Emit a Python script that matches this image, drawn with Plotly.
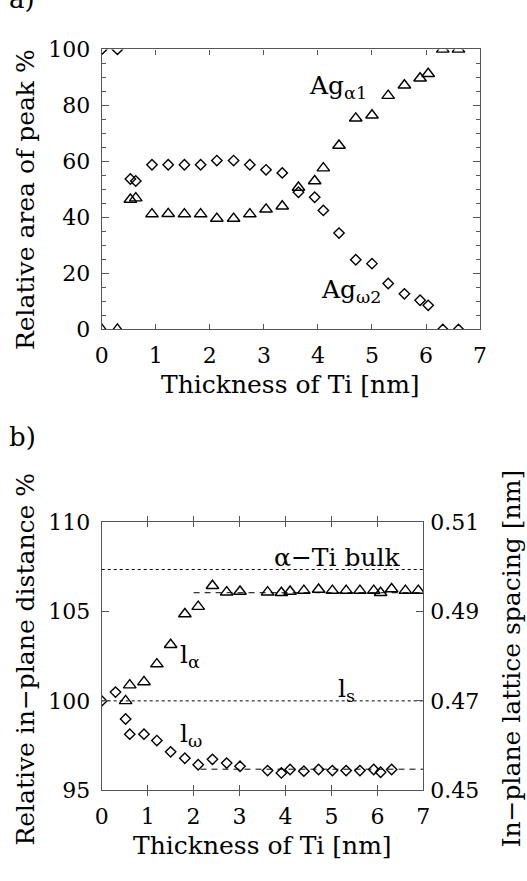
import plotly.graph_objects as go

# ---------------- data: panel a ----------------
thick_a = [0.0, 0.29, 0.53, 0.63, 0.93, 1.23, 1.53, 1.83, 2.13, 2.44, 2.74, 3.04, 3.34,
           3.64, 3.94, 4.10, 4.39, 4.70, 5.00, 5.30, 5.60, 5.89, 6.04, 6.31, 6.60]
ag_omega2 = [100, 100, 53.7, 53.0, 58.8, 58.8, 58.8, 58.8, 60.3, 60.3, 58.8, 57.0, 55.9,
             49.0, 47.2, 42.5, 34.4, 24.9, 23.5, 16.4, 12.7, 10.4, 8.6, 0, 0]
ag_alpha1 = [0, 0, 46.4, 46.9, 41.2, 41.3, 41.2, 41.2, 39.6, 39.6, 41.2, 42.9, 44.0,
             50.7, 53.0, 57.6, 65.7, 75.4, 76.5, 83.5, 87.2, 89.7, 91.3, 100, 100]

# ---------------- data: panel b ----------------
thick_w = [0.0, 0.30, 0.52, 0.61, 0.92, 1.20, 1.50, 1.81, 2.10, 2.41, 2.72, 3.01, 3.61,
           3.91, 4.10, 4.40, 4.72, 5.02, 5.32, 5.62, 5.92, 6.07, 6.31]
l_omega = [100.0, 100.49, 98.99, 98.14, 98.14, 97.78, 97.15, 96.79, 96.43, 96.73, 96.52,
           96.34, 96.10, 95.97, 96.16, 96.07, 96.16, 96.10, 96.10, 96.10, 96.16, 96.01, 96.16]
thick_al = [0.52, 0.61, 0.92, 1.20, 1.50, 1.81, 2.10, 2.41, 2.72, 3.01, 3.61, 3.91, 4.10,
            4.40, 4.72, 5.02, 5.32, 5.62, 5.92, 6.07, 6.31, 6.61, 6.89]
l_alpha = [100.0, 100.88, 101.06, 102.06, 103.14, 104.86, 105.27, 106.44, 106.08, 106.12,
           106.08, 106.05, 106.12, 106.17, 106.23, 106.17, 106.17, 106.17, 106.17, 106.05,
           106.26, 106.17, 106.17]
fit_alpha_x = [2.0, 7.0]
fit_alpha_y = [106.05, 106.05]
fit_omega_x = [2.15, 7.0]
fit_omega_y = [96.18, 96.18]
bulk_x = [0.0, 7.0]
bulk_y = [107.35, 107.35]
ls_x = [0.0, 7.0]
ls_y = [100.0, 100.0]

x_ticks = [0, 1, 2, 3, 4, 5, 6, 7]
ya_ticks = [0, 20, 40, 60, 80, 100]
yb_ticks = [95, 100, 105, 110]
yr_ticks = [0.45, 0.47, 0.49, 0.51]
yr_range = [0.45, 0.51]

FONT = "DejaVu Serif"
FS = 22      # tick labels
FT = 25      # titles / labels
AX = "#555555"
W, H = 527, 881

def mk(sym, x, y, xa, ya):
    return go.Scatter(x=x, y=y, xaxis=xa, yaxis=ya, mode="markers", showlegend=False,
                      marker=dict(symbol=sym, size=11 if "triangle" in sym else 8,
                                  color="black", line=dict(color="black", width=1.4)))

fig = go.Figure()
fig.add_trace(mk("diamond-open", thick_a, ag_omega2, "x", "y"))
fig.add_trace(mk("triangle-up-open", thick_a, ag_alpha1, "x", "y"))

fig.add_trace(go.Scatter(x=bulk_x, y=bulk_y, xaxis="x2", yaxis="y2", mode="lines",
                         line=dict(color="black", width=1, dash="dot"), showlegend=False))
fig.add_trace(go.Scatter(x=ls_x, y=ls_y, xaxis="x2", yaxis="y2", mode="lines",
                         line=dict(color="black", width=1, dash="dot"), showlegend=False))
fig.add_trace(go.Scatter(x=fit_alpha_x, y=fit_alpha_y, xaxis="x2", yaxis="y2", mode="lines",
                         line=dict(color="black", width=1, dash="6px,5px"), showlegend=False))
fig.add_trace(go.Scatter(x=fit_omega_x, y=fit_omega_y, xaxis="x2", yaxis="y2", mode="lines",
                         line=dict(color="black", width=1, dash="6px,5px"), showlegend=False))
fig.add_trace(mk("diamond-open", thick_w, l_omega, "x2", "y2"))
fig.add_trace(mk("triangle-up-open", thick_al, l_alpha, "x2", "y2"))
# invisible trace so the right-hand (lattice spacing) axis is drawn
fig.add_trace(go.Scatter(x=[0, 7], y=yr_range, xaxis="x2", yaxis="y3", mode="markers",
                         marker=dict(opacity=0), hoverinfo="skip", showlegend=False))

def px2x(p):
    return p / W

def py2y(p):
    return 1 - p / H

axis_common = dict(showline=True, linecolor=AX, linewidth=1.3, mirror="allticks",
                   ticks="inside", tickcolor=AX, tickwidth=1.2,
                   showgrid=False, zeroline=False,
                   tickfont=dict(family=FONT, size=FS, color="black"))

fig.update_layout(
    width=W, height=H, margin=dict(l=0, r=0, t=0, b=0),
    paper_bgcolor="white", plot_bgcolor="white",
    xaxis=dict(domain=[px2x(97.3), px2x(486)], anchor="y", range=[0, 7],
               tickvals=x_ticks, ticklen=5, ticklabelstandoff=6, **axis_common),
    yaxis=dict(domain=[py2y(326.7), py2y(38.5)], anchor="x", range=[0, 100],
               tickvals=ya_ticks, ticklen=7, ticklabelstandoff=6,
               minor=dict(dtick=5, ticks="inside", ticklen=4, tickcolor=AX, tickwidth=1.2),
               **axis_common),
    xaxis2=dict(domain=[px2x(97.3), px2x(427.7)], anchor="y2", range=[0, 7],
                tickvals=x_ticks, ticklen=5, ticklabelstandoff=6, **axis_common),
    yaxis2=dict(domain=[py2y(801), py2y(525)], anchor="x2", range=[95, 110],
                tickvals=yb_ticks, ticklen=7, ticklabelstandoff=6, **axis_common),
    yaxis3=dict(overlaying="y2", anchor="x2", side="right", range=yr_range,
                tickvals=yr_ticks, tickformat=".2f", showline=False, ticks="inside",
                tickcolor=AX, tickwidth=1.2, ticklen=7, ticklabelstandoff=6,
                showgrid=False, zeroline=False,
                tickfont=dict(family=FONT, size=FS, color="black")),
)

tf = dict(family=FONT, size=FT, color="black")
ann = []
# axis titles
ann.append(dict(text="Thickness of Ti [nm]", x=px2x(291), y=py2y(383), xref="paper", yref="paper",
                showarrow=False, font=tf, xanchor="center", yanchor="middle"))
ann.append(dict(text="Thickness of Ti [nm]", x=px2x(262), y=py2y(858), xref="paper", yref="paper",
                showarrow=False, font=tf, xanchor="center", yanchor="middle"))
ann.append(dict(text="Relative area of peak %", x=px2x(19), y=py2y(193), xref="paper", yref="paper",
                showarrow=False, font=tf, textangle=-90, xanchor="center", yanchor="middle"))
ann.append(dict(text="Relative in\u2212plane distance %", x=px2x(19), y=py2y(666), xref="paper",
                yref="paper", showarrow=False, font=tf, textangle=-90,
                xanchor="center", yanchor="middle"))
ann.append(dict(text="In\u2212plane lattice spacing [nm]", x=px2x(518), y=py2y(665), xref="paper",
                yref="paper", showarrow=False, font=tf, textangle=-90,
                xanchor="center", yanchor="middle"))
# panel labels
ann.append(dict(text="a)", x=0, y=py2y(4), xref="paper", yref="paper", showarrow=False,
                font=dict(family=FONT, size=26, color="black"), xanchor="left", yanchor="bottom"))
ann.append(dict(text="b)", x=0, y=py2y(437), xref="paper", yref="paper", showarrow=False,
                font=dict(family=FONT, size=26, color="black"), xanchor="left", yanchor="middle"))
# in-plot labels
big = dict(family=FONT, size=FT, color="black")
ann.append(dict(text="Ag<sub>\u03b11</sub>", x=3.80, y=86.5, xref="x", yref="y", showarrow=False,
                font=big, xanchor="left", yanchor="middle"))
ann.append(dict(text="Ag<sub>\u03c92</sub>", x=4.02, y=13.7, xref="x", yref="y", showarrow=False,
                font=big, xanchor="left", yanchor="middle"))
ann.append(dict(text="\u03b1\u2212Ti bulk", x=3.70, y=108.0, xref="x2", yref="y2", showarrow=False,
                font=tf, xanchor="left", yanchor="middle"))
ann.append(dict(text="l<sub>\u03b1</sub>", x=1.65, y=102.5, xref="x2", yref="y2", showarrow=False,
                font=big, xanchor="left", yanchor="middle"))
ann.append(dict(text="l<sub>s</sub>", x=5.10, y=100.6, xref="x2", yref="y2", showarrow=False,
                font=big, xanchor="left", yanchor="middle"))
ann.append(dict(text="l<sub>\u03c9</sub>", x=1.65, y=98.1, xref="x2", yref="y2", showarrow=False,
                font=big, xanchor="left", yanchor="middle"))
fig.update_layout(annotations=ann)

fig.write_html("out.html",
               post_script="document.body.style.margin='0';document.body.style.overflow='hidden';")
